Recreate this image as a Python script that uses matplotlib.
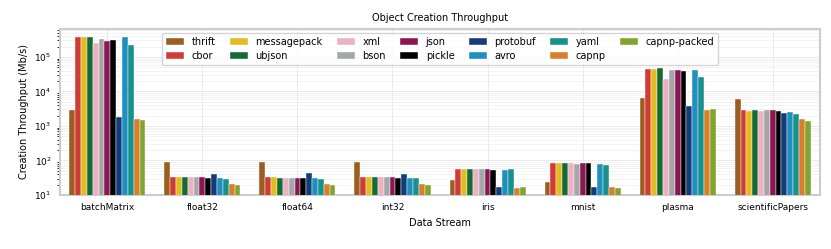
import numpy as np
import matplotlib
matplotlib.use("Agg")
from matplotlib import pyplot as plt

streams = ["batchMatrix", "float32", "float64", "int32", "iris", "mnist", "plasma", "scientificPapers"]
formats = ["thrift", "cbor", "messagepack", "ubjson", "xml", "bson", "json", "pickle",
           "protobuf", "avro", "yaml", "capnp", "capnp-packed"]
colors = ["#9b5e1f", "#d13b36", "#e3bc1f", "#156b34", "#ecb2c1", "#a5a6a8", "#8c1654",
          "#000000", "#133c7b", "#1f8fc0", "#18918e", "#d87f2c", "#7fa52f"]

# throughput (Mb/s), one list per format, in stream order
thrift = [2900, 92, 92, 93, 27, 24, 6600, 6200]
cbor = [370000, 33, 33, 33, 56, 83, 44000, 2850]
messagepack = [370000, 33, 33, 33, 56, 83, 44000, 2800]
ubjson = [370000, 33, 32, 33, 56, 83, 47000, 2900]
xml = [260000, 33, 32, 33, 56, 83, 23000, 2800]
bson = [330000, 33, 32, 33, 56, 81, 43000, 2900]
json = [290000, 34, 32, 33, 56, 83, 41000, 2900]
pickle = [320000, 32, 32, 32, 54, 83, 40000, 2700]
protobuf = [1800, 40, 43, 41, 17.4, 17, 3700, 2350]
avro = [370000, 31, 32, 32, 53, 81, 43000, 2600]
yaml = [220000, 30, 30, 31, 56, 74, 26000, 2200]
capnp = [1600, 21, 21, 21, 16.3, 17, 2950, 1600]
capnp_packed = [1500, 19.5, 19.5, 20, 16.5, 16, 3000, 1400]

series = [thrift, cbor, messagepack, ubjson, xml, bson, json, pickle,
          protobuf, avro, yaml, capnp, capnp_packed]

fig, ax = plt.subplots(figsize=(8.31, 2.49), dpi=100)
fig.subplots_adjust(left=0.072, right=0.987, top=0.884, bottom=0.217)

x = np.arange(len(streams))
n = len(series)
w = 0.8 / n
for i, vals in enumerate(series):
    ax.bar(x - 0.4 + w * (i + 0.5), vals, width=w, color=colors[i],
           edgecolor="white", linewidth=0.3, label=formats[i], zorder=3)

ax.set_yscale("log")
ax.set_ylim(10, 6.5e5)
ax.set_xlim(-0.5, len(streams) - 0.5)
ax.set_xticks(x)
ax.set_xticklabels(streams, fontsize=6.5)
ax.tick_params(axis="y", labelsize=6.5)
ax.tick_params(length=0, pad=6)

ax.grid(True, which="major", color="#e6e6e6", linewidth=0.6, zorder=0)
ax.grid(True, which="minor", axis="y", color="#eeeeee", linewidth=0.5, zorder=0)
for s in ax.spines.values():
    s.set_color("#cccccc")
    s.set_linewidth(1.5)

ax.set_title("Object Creation Throughput", fontsize=7)
ax.set_xlabel("Data Stream", fontsize=7)
ax.set_ylabel("Creation Throughput (Mb/s)", fontsize=7)

ax.legend(ncol=7, loc="upper center", fontsize=7, frameon=True,
          handlelength=1.9, columnspacing=1.45, borderaxespad=0.4,
          handletextpad=0.75, labelspacing=0.45)

plt.savefig("out.png")
